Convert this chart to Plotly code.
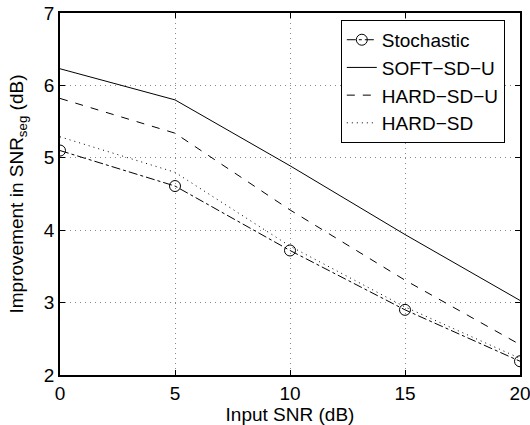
import plotly.graph_objects as go

snr = [0, 5, 10, 15, 20]
stochastic = [5.10, 4.61, 3.72, 2.90, 2.19]
soft_sd_u = [6.23, 5.80, 4.89, 3.94, 3.03]
hard_sd_u = [5.82, 5.34, 4.28, 3.31, 2.42]
hard_sd = [5.29, 4.80, 3.78, 2.94, 2.23]

FONT = "Liberation Sans, Arial, Helvetica, sans-serif"

fig = go.Figure()
fig.add_trace(go.Scatter(x=snr, y=stochastic, name="Stochastic", mode="lines+markers",
                         line=dict(color="black", width=1, dash="dashdot"),
                         marker=dict(symbol="circle-open", size=11, color="black", line=dict(width=1))))
fig.add_trace(go.Scatter(x=snr, y=soft_sd_u, name="SOFT\u2212SD\u2212U", mode="lines",
                         line=dict(color="black", width=1)))
fig.add_trace(go.Scatter(x=snr, y=hard_sd_u, name="HARD\u2212SD\u2212U", mode="lines",
                         line=dict(color="black", width=1, dash="8px,8px")))
fig.add_trace(go.Scatter(x=snr, y=hard_sd, name="HARD\u2212SD", mode="lines",
                         line=dict(color="black", width=1, dash="1px,4px")))

axis_common = dict(
    showline=True, linecolor="black", linewidth=1.5, mirror="ticks",
    ticks="inside", ticklen=5, tickcolor="black",
    showgrid=True, gridcolor="#888888", griddash="1px,4px", gridwidth=1,
    zeroline=False, automargin=False, ticklabeloverflow="allow",
    tickfont=dict(family=FONT, size=19, color="black"),
)

fig.update_xaxes(range=[0, 20], tickvals=[0, 5, 10, 15, 20],
                 title=dict(text="Input SNR (dB)", font=dict(family=FONT, size=19, color="black")),
                 **axis_common)
fig.update_yaxes(range=[2, 7], tickvals=[2, 3, 4, 5, 6, 7],
                 title=dict(text="Improvement in SNR<sub>seg</sub> (dB)", font=dict(family=FONT, size=19, color="black")),
                 **axis_common)

fig.update_layout(
    width=530, height=425,
    margin=dict(l=60, r=10, t=13, b=50),
    plot_bgcolor="white", paper_bgcolor="white",
    font=dict(family=FONT, size=19, color="black"),
    legend=dict(x=0.967, y=0.981, xanchor="right", yanchor="top",
                bgcolor="white", bordercolor="black", borderwidth=1,
                font=dict(family=FONT, size=19, color="black"),
                tracegroupgap=0, itemwidth=30),
    showlegend=True,
)

fig.write_html("out.html", config={"displayModeBar": False},
               post_script="document.body.style.margin='0px';document.body.style.padding='0px';")
